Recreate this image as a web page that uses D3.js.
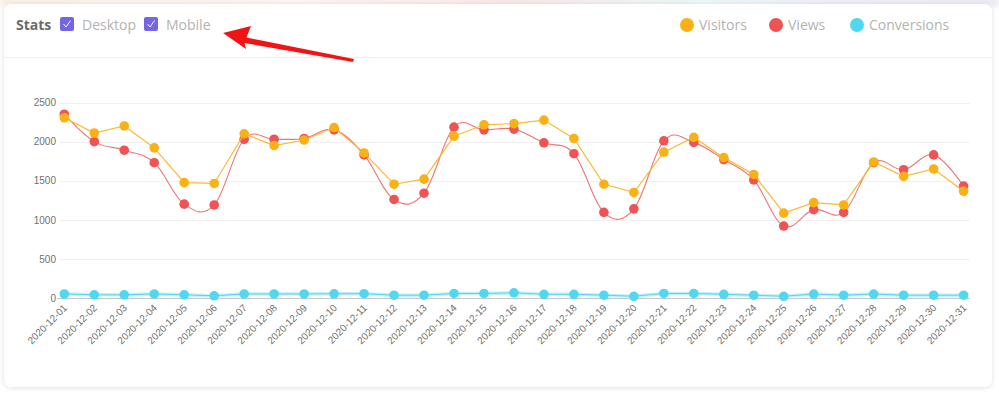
<!DOCTYPE html>
<html><head><meta charset="utf-8">
<script src="https://cdn.jsdelivr.net/npm/d3@7"></script>
<style>
html,body{margin:0;padding:0;background:#fff;width:999px;height:394px;overflow:hidden}
svg{display:block}
</style></head>
<body>
<svg id="c" width="999" height="394"></svg>
<script>
const dates = ["2020-12-01","2020-12-02","2020-12-03","2020-12-04","2020-12-05","2020-12-06","2020-12-07","2020-12-08","2020-12-09","2020-12-10","2020-12-11","2020-12-12","2020-12-13","2020-12-14","2020-12-15","2020-12-16","2020-12-17","2020-12-18","2020-12-19","2020-12-20","2020-12-21","2020-12-22","2020-12-23","2020-12-24","2020-12-25","2020-12-26","2020-12-27","2020-12-28","2020-12-29","2020-12-30","2020-12-31"];
const visitors = [2305,2110,2200,1920,1475,1465,2100,1950,2020,2180,1855,1455,1520,2070,2215,2230,2275,2040,1455,1350,1865,2055,1795,1580,1085,1220,1190,1740,1555,1650,1365];
const views = [2350,2000,1890,1730,1200,1190,2030,2030,2040,2150,1830,1260,1340,2185,2150,2160,1985,1845,1095,1140,2010,1990,1770,1510,920,1130,1095,1730,1640,1830,1430];
const conversions = [51,40,40,52,40,28,52,52,52,54,55,36,36,58,58,66,47,47,36,22,58,58,47,36,22,50,36,50,36,36,36];
const yTicks = [0,500,1000,1500,2000,2500];
const legendItems = ["Visitors","Views","Conversions"];
const colors = {Visitors:"#f9b115", Views:"#ef5353", Conversions:"#4fd8ef"};

const svg = d3.select("#c");
const defs = svg.append("defs");

// top blurred colour strip
const lg = defs.append("linearGradient").attr("id","topg").attr("x1","0").attr("x2","1");
[[0,"#f6eadc"],[0.3,"#fbeeee"],[0.5,"#f9dede"],[0.7,"#e3f3f4"],[0.85,"#e9e6f3"],[1,"#e6e3f0"]].forEach(s=>lg.append("stop").attr("offset",s[0]).attr("stop-color",s[1]));
const bl = defs.append("filter").attr("id","blur").attr("x","-10%").attr("y","-200%").attr("width","120%").attr("height","500%");
bl.append("feGaussianBlur").attr("stdDeviation",3);
svg.append("rect").attr("x",0).attr("y",-2).attr("width",999).attr("height",8).attr("fill","url(#topg)").attr("filter","url(#blur)");

const sh = defs.append("filter").attr("id","sh").attr("x","-5%").attr("y","-5%").attr("width","110%").attr("height","115%");
sh.append("feDropShadow").attr("dx",0).attr("dy",1).attr("stdDeviation",2.5).attr("flood-color","#000").attr("flood-opacity",0.12);
svg.append("rect").attr("x",4).attr("y",4).attr("width",988).attr("height",383).attr("rx",8)
  .attr("fill","#fff").attr("filter","url(#sh)");

// header
const hf = "'Open Sans', 'Noto Sans', sans-serif";
svg.append("text").attr("x",16).attr("y",30).text("Stats")
  .attr("font-family",hf).attr("font-weight",700).attr("font-size",14).attr("fill","#6b6b6b");
function checkbox(x,label){
  svg.append("rect").attr("x",x).attr("y",17).attr("width",14).attr("height",14).attr("rx",2).attr("fill","#7464e6");
  svg.append("path").attr("d",`M${x+3.5},${24} L${x+6},${27} L${x+10.5},${20.5}`).attr("fill","none").attr("stroke","#fff").attr("stroke-width",1);
  svg.append("text").attr("x",x+22).attr("y",30).text(label)
    .attr("font-family",hf).attr("font-size",14).attr("fill","#b3b3b3");
}
checkbox(60,"Desktop");
checkbox(144,"Mobile");

const legX = [687,776,857];
legendItems.forEach((k,i)=>{
  svg.append("circle").attr("cx",legX[i]).attr("cy",25).attr("r",7).attr("fill",colors[k]);
  svg.append("text").attr("x",legX[i]+12).attr("y",30).text(k)
    .attr("font-family",hf).attr("font-size",14).attr("fill","#b3b3b3");
});

svg.append("line").attr("x1",4).attr("x2",992).attr("y1",57.5).attr("y2",57.5).attr("stroke","#efefef");

// scales
const x = d3.scalePoint().domain(dates).range([64.3,963.6]);
const y = d3.scaleLinear().domain([0,2500]).range([298,102.5]);
const af = "'Liberation Sans', Arial, sans-serif";

// grid
svg.append("g").selectAll("line").data(yTicks.filter(d=>d>0)).join("line")
  .attr("x1",60).attr("x2",970).attr("y1",d=>Math.round(y(d))+0.5).attr("y2",d=>Math.round(y(d))+0.5)
  .attr("stroke","#f0f0f0");
// y axis labels via axis
const ya = svg.append("g").attr("transform","translate(57,0)")
  .call(d3.axisLeft(y).tickValues(yTicks).tickFormat(d3.format("d")).tickSize(0).tickPadding(1));
ya.select(".domain").remove();
ya.selectAll("text").attr("font-family",af).attr("font-size",10).attr("fill","#707070");

// x axis
const xa = svg.append("g").attr("transform",`translate(0,${Math.round(y(0))+0.5})`).call(d3.axisBottom(x).tickSize(0).tickPadding(0));
xa.select(".domain").attr("d","M57,0H970").attr("stroke","#c8c8c8");
xa.selectAll("text").attr("font-family",af).attr("font-size",10).attr("fill","#707070")
  .attr("text-anchor","end").attr("dy",0)
  .attr("transform","translate(3,10) rotate(-45)");

// series
const lineStraight = d3.line().x((d,i)=>x(dates[i])).y(d=>y(d));
const lineSmooth = d3.line().x((d,i)=>x(dates[i])).y(d=>y(d)).curve(d3.curveCardinal.tension(-0.1));

// conversions
svg.append("path").attr("d",lineStraight(conversions)).attr("fill","none").attr("stroke",colors.Conversions).attr("stroke-width",3.5).attr("opacity",0.35);
svg.append("path").attr("d",lineStraight(conversions)).attr("fill","none").attr("stroke",colors.Conversions).attr("stroke-width",1);
svg.append("g").selectAll("circle").data(conversions).join("circle")
  .attr("cx",(d,i)=>x(dates[i])).attr("cy",d=>y(d)).attr("r",4.8).attr("fill",colors.Conversions);

// views
svg.append("path").attr("d",lineSmooth(views)).attr("fill","none").attr("stroke","#f07474").attr("stroke-width",1.1);
svg.append("g").selectAll("circle").data(views).join("circle")
  .attr("cx",(d,i)=>x(dates[i])).attr("cy",d=>y(d)).attr("r",4.8).attr("fill",colors.Views);

// visitors
svg.append("path").attr("d",lineStraight(visitors)).attr("fill","none").attr("stroke","#f9b933").attr("stroke-width",1.2);
svg.append("g").selectAll("circle").data(visitors).join("circle")
  .attr("cx",(d,i)=>x(dates[i])).attr("cy",d=>y(d)).attr("r",4.8).attr("fill",colors.Visitors);

// red arrow annotation
svg.append("path").attr("d","M223,33 L251,26 L246.5,37.5 L354,59 L353,62 L244.5,43 L246,49 Z").attr("fill","#f21414");
</script>
</body></html>
